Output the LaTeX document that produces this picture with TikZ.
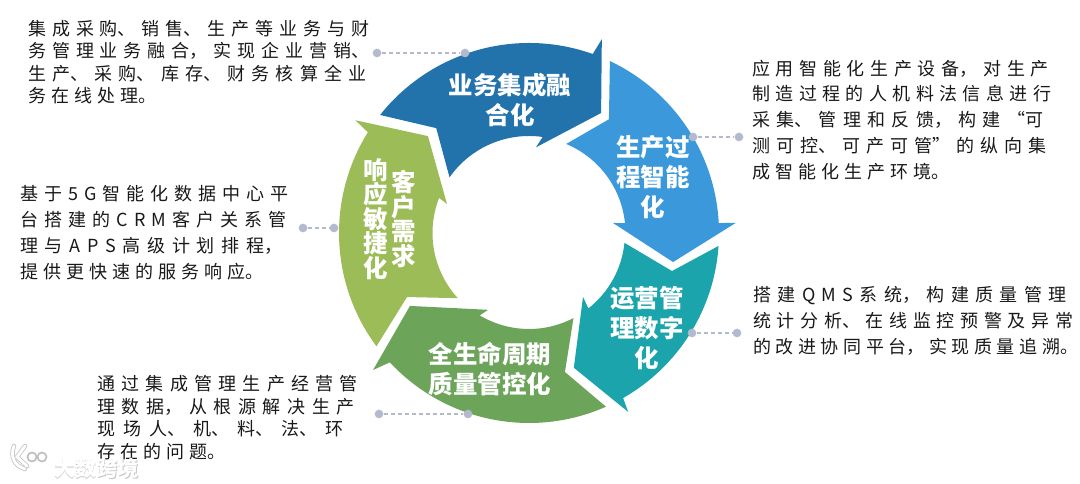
\documentclass[tikz,border=0pt]{standalone}
\usepackage{fontspec}
\setmainfont{Noto Sans CJK SC}
\XeTeXlinebreaklocale "zh"
\XeTeXlinebreakskip=3.6pt plus 3pt minus 1.5pt
\newcommand{\ls}{\hskip 3.6pt plus 3pt minus 1.5pt\relax}
\definecolor{bizblue}{HTML}{2272AC}
\definecolor{skyblue}{HTML}{3A98DB}
\definecolor{tealring}{HTML}{1CA4AC}
\definecolor{leafgreen}{HTML}{6CA55A}
\definecolor{olivering}{HTML}{9CBC58}
\definecolor{dotgray}{HTML}{B4BACD}
\tikzset{
	ringlabel/.style={text=white,font=\bfseries\fontsize{17.4pt}{21.3pt}\selectfont,align=center,inner sep=0pt},
	collabel/.style={text=white,font=\bfseries\fontsize{17.4pt}{17.4pt}\selectfont,align=center,inner sep=0pt},
	para/.style 2 args={anchor=north west,inner sep=0pt,text width=#1,font=\fontsize{12.8pt}{#2}\selectfont,text=black!90},
	dotmark/.style={circle,fill=dotgray,inner sep=0pt,minimum size=6.2pt},
	dashline/.style={dotgray,densely dashed,line width=0.8pt},
	markstyle/.style={font=\bfseries\fontsize{15pt}{15pt}\selectfont,inner sep=0pt},
}
\begin{document}
\begin{tikzpicture}[x=0.025cm,y=0.025cm]
	\useasboundingbox (0,0) rectangle (1080,484);

	% ring, centre at (529,251)
	\begin{scope}[shift={(529,251)}]
		\fill[bizblue] (141.6:190) arc[start angle=141.6,end angle=70.4,radius=190] -- (69.4:207) -- (59:140) -- (85.3:86) -- (81.9:97) arc[start angle=81.9,end angle=145,radius=97] -- (131.5:140) -- cycle;
		\fill[skyblue] (64.8:190) arc[start angle=64.8,end angle=3,radius=190] -- (2.8:207) -- (-11.4:147) -- (6.8:84.6) -- (5.9:96.5) arc[start angle=5.9,end angle=67.3,radius=96.5] -- (54.9:139) -- cycle;
		\fill[tealring] (-3.9:190) arc[start angle=-3.9,end angle=-60.3,radius=190] -- (-61:204.6) -- (-71.6:142) -- (-49.8:83.7) -- (-51.8:96) arc[start angle=-51.8,end angle=-5.9,radius=96] -- (-14.9:148) -- cycle;
		\fill[leafgreen] (-66.1:190) arc[start angle=-66.1,end angle=-137.1,radius=190] -- (-138.7:207.6) -- (-148.5:139.6) -- (-118:87) -- (-120.9:96) arc[start angle=-120.9,end angle=-62.4,radius=96] -- (-75.5:143.6) -- cycle;
		\fill[olivering] (216.6:190) arc[start angle=216.6,end angle=148,radius=190] -- (147:207) -- (136.2:140) -- (160.5:87) -- (158.7:96.5) arc[start angle=158.7,end angle=222.5,radius=96.5] -- (207.7:137.8) -- cycle;
	\end{scope}

	\node[ringlabel] (bizlabel) at (510,384) {业务集成融\\合化};
	\node[ringlabel] (prodlabel) at (653,307) {生产过\\程智能\\化};
	\node[ringlabel] (opslabel) at (647,156) {运营管\\理数字\\化};
	\node[ringlabel] (lifelabel) at (490,115) {全生命周期\\质量管控化};
	\node[collabel] (custlabel) at (404,265) {客\\户\\需\\求};
	\node[collabel] (resplabel) at (376,265) {响\\应\\敏\\捷\\化};

	% connectors
	\node[dotmark] (bizouter) at (377,431) {};
	\node[dotmark] (bizinner) at (465,431) {};
	\draw[dashline] (bizouter) -- (bizinner);
	\node[dotmark] (prodinner) at (693,347) {};
	\node[dotmark] (prodouter) at (739,347) {};
	\draw[dashline] (prodinner) -- (prodouter);
	\node[dotmark] (opsinner) at (692,151) {};
	\node[dotmark] (opsouter) at (737,151) {};
	\draw[dashline] (opsinner) -- (opsouter);
	\node[dotmark] (lifeouter) at (379,70) {};
	\node[dotmark] (lifeinner) at (468,70) {};
	\draw[dashline] (lifeouter) -- (lifeinner);
	\node[dotmark] (custouter) at (303,256) {};
	\node[dotmark] (custinner) at (334,256) {};
	\draw[dashline] (custouter) -- (custinner);

	% texts
	\node[para={247.5pt}{16pt}] (biztext) at (28,464) {集成采购、销售、生产等业务与财\linebreak 务管理业务融合，实现企业营销、\linebreak 生产、采购、库存、财务核算全业\linebreak 务在线处理。};
	\node[para={214.5pt}{18.4pt}] (prodtext) at (752,424.5) {应用智能化生产设备，对生产\linebreak 制造过程的人机料法信息进行\linebreak 采集、管理和反馈，构建“可\linebreak 测可控、可产可管”的纵向集\linebreak 成智能化生产环境。};
	\node[para={231pt}{18.4pt}] (opstext) at (753,198) {\parfillskip=0pt 搭建Q\ls M\ls S\ls 系统，构建质量管理\hskip-5pt\linebreak 统计分析、在线监控预警及异常\hskip-5pt\linebreak 的改进协同平台，实现质量追溯。\hskip-5pt};
	\node[para={196pt}{18.4pt}] (custtext) at (20,299) {基于5\ls G\ls 智能化数据中心平\linebreak 台搭建的C\ls R\ls M\ls 客户关系管\linebreak 理与A\ls P\ls S\ls 高级计划排程，\linebreak 提供更快速的服务响应。};
	\node[para={192.5pt}{16pt}] (lifetext) at (97,108.5) {通过集成管理生产经营管\linebreak 理数据，从根源解决生产\linebreak 现场人、机、料、法、环\linebreak 存在的问题。};

	% watermark
	\node[markstyle,text=black!22] (markshadow) at (97,15) {大数跨境};
	\node[markstyle,text=white] (marktext) at (96.5,15.6) {大数跨境};
	\draw[black!22,line width=3.2pt,line cap=round] (14,38) .. controls (10,28) and (14,18) .. (25,15);
	\draw[black!22,line width=3.2pt,line cap=round] (25,38) -- (17,27) -- (27,18);
	\draw[white,line width=2pt,line cap=round] (14,38) .. controls (10,28) and (14,18) .. (25,15);
	\draw[white,line width=2pt,line cap=round] (25,38) -- (17,27) -- (27,18);
	\draw[black!25,fill=white,line width=1.2pt] (32,27) circle (4.5);
	\draw[black!25,fill=white,line width=1.2pt] (42,27) circle (4.5);
\end{tikzpicture}
\end{document}
